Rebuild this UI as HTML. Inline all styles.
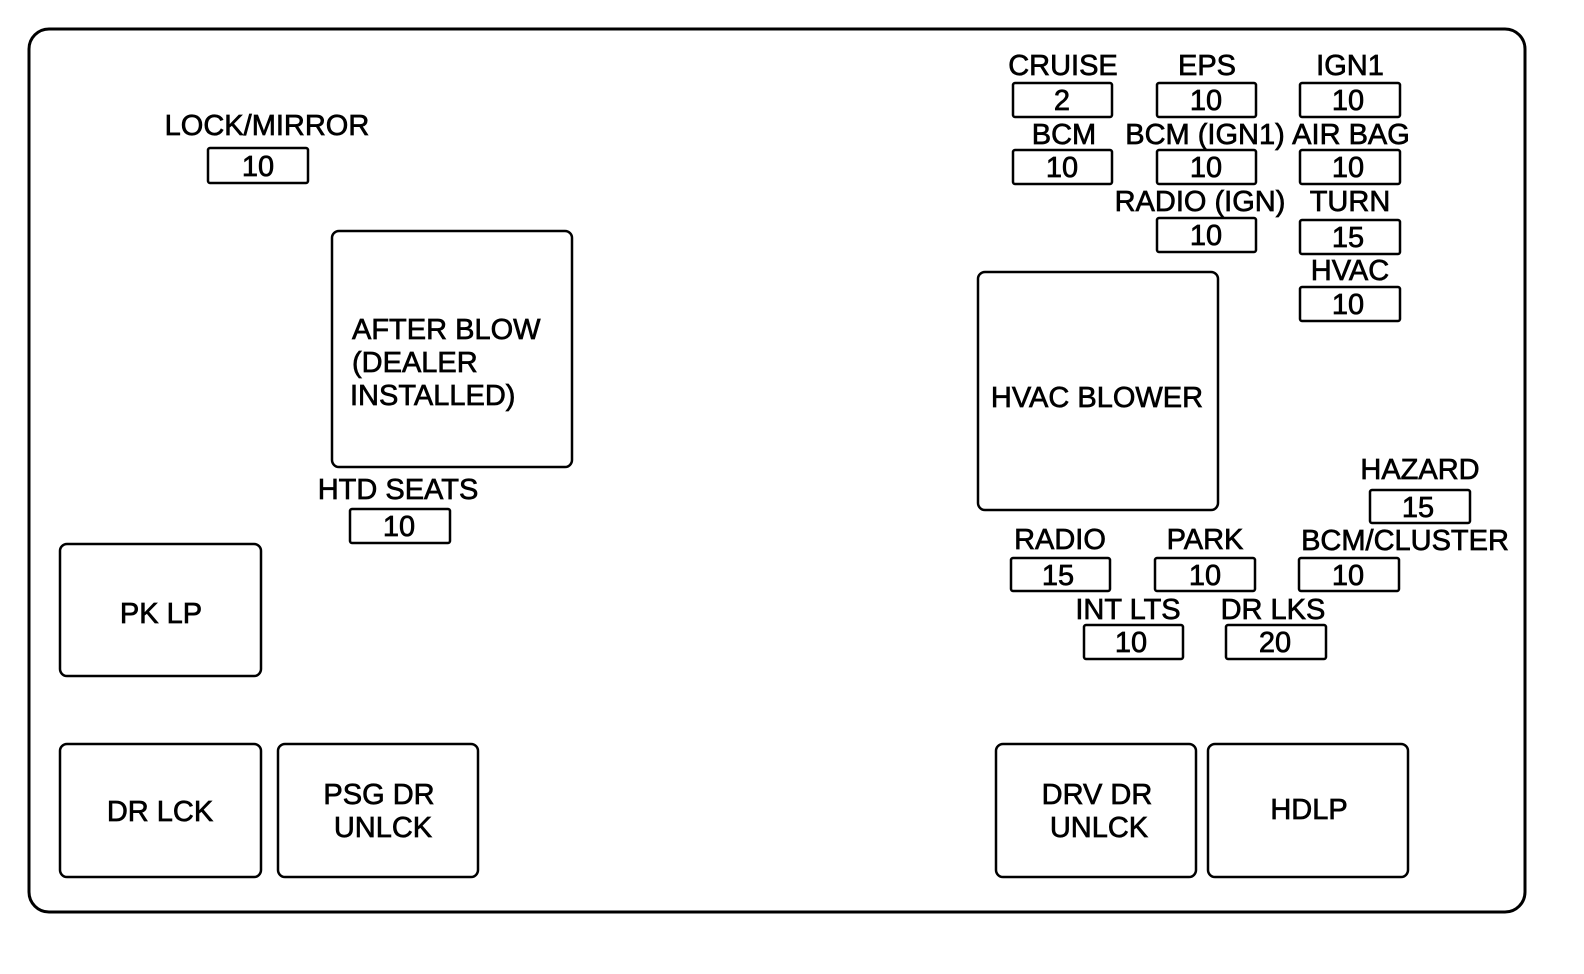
<!DOCTYPE html>
<html><head><meta charset="utf-8"><style>
html,body{margin:0;padding:0;background:#fff;}
svg{display:block;}
text{font-family:"Liberation Sans",Arial,sans-serif;fill:#000;stroke:#000;stroke-width:0.7;}
</style></head><body>
<svg width="1584" height="974" viewBox="0 0 1584 974" xmlns="http://www.w3.org/2000/svg">
<rect x="29" y="29" width="1496" height="883" rx="20" fill="none" stroke="#000" stroke-width="3"/>
<g fill="none" stroke="#000" stroke-width="2.5">
<rect x="208" y="148" width="100" height="35" rx="2"/>
<rect x="1013" y="83" width="99" height="34" rx="2"/>
<rect x="1157" y="83" width="99" height="34" rx="2"/>
<rect x="1300" y="83" width="100" height="34" rx="2"/>
<rect x="1013" y="150" width="99" height="34" rx="2"/>
<rect x="1157" y="150" width="99" height="34" rx="2"/>
<rect x="1300" y="150" width="100" height="34" rx="2"/>
<rect x="1157" y="218" width="99" height="34" rx="2"/>
<rect x="1300" y="220" width="100" height="34" rx="2"/>
<rect x="1300" y="287" width="100" height="34" rx="2"/>
<rect x="1370" y="490" width="100" height="33" rx="2"/>
<rect x="1011" y="558" width="99" height="33" rx="2"/>
<rect x="1155" y="558" width="100" height="33" rx="2"/>
<rect x="1299" y="558" width="100" height="33" rx="2"/>
<rect x="1084" y="625" width="99" height="34" rx="2"/>
<rect x="1226" y="625" width="100" height="34" rx="2"/>
<rect x="350" y="509" width="100" height="34" rx="2"/>
<rect x="332" y="231" width="240" height="236" rx="7"/>
<rect x="978" y="272" width="240" height="238" rx="7"/>
<rect x="60" y="544" width="201" height="132" rx="7"/>
<rect x="60" y="744" width="201" height="133" rx="7"/>
<rect x="278" y="744" width="200" height="133" rx="7"/>
<rect x="996" y="744" width="200" height="133" rx="7"/>
<rect x="1208" y="744" width="200" height="133" rx="7"/>
</g>
<g font-size="29" text-anchor="middle">
<text x="267" y="135">LOCK/MIRROR</text><text x="258" y="176">10</text>
<text x="1063" y="75">CRUISE</text><text x="1062" y="110">2</text>
<text x="1207" y="75">EPS</text><text x="1206" y="110">10</text>
<text x="1350" y="75">IGN1</text><text x="1348" y="110">10</text>
<text x="1064" y="144">BCM</text><text x="1062" y="177">10</text>
<text x="1205" y="144">BCM (IGN1)</text><text x="1206" y="177">10</text>
<text x="1351" y="144">AIR BAG</text><text x="1348" y="177">10</text>
<text x="1200" y="211">RADIO (IGN)</text><text x="1206" y="245">10</text>
<text x="1350" y="211">TURN</text><text x="1348" y="247">15</text>
<text x="1350" y="280">HVAC</text><text x="1348" y="314">10</text>
<text x="1420" y="479">HAZARD</text><text x="1418" y="517">15</text>
<text x="1060" y="549">RADIO</text><text x="1058" y="585">15</text>
<text x="1205" y="549">PARK</text><text x="1205" y="585">10</text>
<text x="1405" y="550">BCM/CLUSTER</text><text x="1348" y="585">10</text>
<text x="1128" y="619">INT LTS</text><text x="1131" y="652">10</text>
<text x="1273" y="619">DR LKS</text><text x="1275" y="652">20</text>
<text x="398" y="499">HTD SEATS</text><text x="399" y="536">10</text>
<text x="1097" y="407">HVAC BLOWER</text>
<text x="161" y="623">PK LP</text>
<text x="160" y="821">DR LCK</text>
<text x="379" y="804">PSG DR</text><text x="383" y="837">UNLCK</text>
<text x="1097" y="804">DRV DR</text><text x="1099" y="837">UNLCK</text>
<text x="1309" y="819">HDLP</text>
</g>
<g font-size="29">
<text x="352" y="339">AFTER BLOW</text>
<text x="352" y="372">(DEALER</text>
<text x="350" y="405">INSTALLED)</text>
</g>
</svg>
</body></html>
